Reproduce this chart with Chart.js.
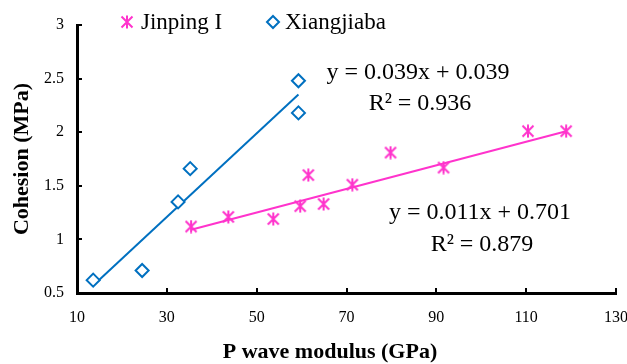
<!DOCTYPE html>
<html>
<head>
<meta charset="utf-8">
<script src="https://cdn.jsdelivr.net/npm/chart.js@4"></script>
<style>
  body { margin: 0; background: #fff; }
</style>
</head>
<body>
<canvas id="chart" width="627" height="364"></canvas>
<script>
// Jinping I
const jinpingX = [35.4, 43.7, 53.7, 59.7, 61.5, 64.9, 71.3, 79.8, 91.6, 110.4, 118.9];
const jinpingY = [1.12, 1.21, 1.19, 1.31, 1.60, 1.33, 1.51, 1.81, 1.67, 2.01, 2.01];
// Xiangjiaba
const xiangX = [13.6, 24.5, 32.5, 35.2, 59.3, 59.3];
const xiangY = [0.62, 0.71, 1.35, 1.66, 2.18, 2.48];

// trendlines: slope, intercept
const jinpingFit = [0.011, 0.701];
const xiangFit = [0.039, 0.039];

const xTicks = [10, 30, 50, 70, 90, 110, 130];
const yTicks = [0.5, 1, 1.5, 2, 2.5, 3];

const PINK = "#ff33cc";
const BLUE = "#0070c0";
const SERIF = "'Liberation Serif', 'Times New Roman', serif";

function toPoints(xs, ys) {
  return xs.map((x, i) => ({ x: x, y: ys[i] }));
}

function fitLine(xs, fit) {
  const x0 = Math.min(...xs);
  const x1 = Math.max(...xs);
  return [
    { x: x0, y: fit[0] * x0 + fit[1] },
    { x: x1, y: fit[0] * x1 + fit[1] },
  ];
}

// asterisk marker (X plus vertical bar)
function makeStar(size) {
  const c = document.createElement("canvas");
  c.width = size;
  c.height = size;
  const g = c.getContext("2d");
  g.strokeStyle = PINK;
  g.lineWidth = 2;
  const m = 1.5;
  g.beginPath();
  g.moveTo(m, m); g.lineTo(size - m, size - m);
  g.moveTo(size - m, m); g.lineTo(m, size - m);
  g.moveTo(size / 2, 0.5); g.lineTo(size / 2, size - 0.5);
  g.stroke();
  return c;
}
const star = makeStar(14);

const overlay = {
  id: "overlay",
  afterDraw(chart) {
    const ctx = chart.ctx;
    const xs = chart.scales.x;
    const ys = chart.scales.y;
    const area = chart.chartArea;
    ctx.save();
    // inward ticks
    ctx.strokeStyle = "#000";
    ctx.lineWidth = 2;
    ctx.beginPath();
    xTicks.forEach((v) => {
      const px = Math.round(xs.getPixelForValue(v));
      ctx.moveTo(px, area.bottom);
      ctx.lineTo(px, area.bottom - 5);
    });
    yTicks.forEach((v) => {
      const py = Math.round(ys.getPixelForValue(v));
      ctx.moveTo(area.left, py);
      ctx.lineTo(area.left + 5, py);
    });
    ctx.stroke();

    // legend
    ctx.fillStyle = "#000";
    ctx.font = "23px " + SERIF;
    ctx.textBaseline = "middle";
    ctx.textAlign = "left";
    ctx.drawImage(star, 120, 15);
    ctx.fillText(chart.data.datasets[0].label, 141, 23);
    ctx.strokeStyle = BLUE;
    ctx.lineWidth = 2;
    ctx.beginPath();
    ctx.moveTo(273, 16); ctx.lineTo(279, 22); ctx.lineTo(273, 28); ctx.lineTo(267, 22);
    ctx.closePath();
    ctx.stroke();
    ctx.fillText(chart.data.datasets[1].label, 285, 23);

    // equations
    ctx.font = "24px " + SERIF;
    ctx.textAlign = "center";
    ctx.fillText("y = " + xiangFit[0].toFixed(3) + "x + " + xiangFit[1].toFixed(3), 418, 73);
    ctx.fillText("R\u00b2 = 0.936", 420, 104);
    ctx.fillText("y = " + jinpingFit[0].toFixed(3) + "x + " + jinpingFit[1].toFixed(3), 480, 213);
    ctx.fillText("R\u00b2 = 0.879", 482, 245);

    // axis titles
    ctx.font = "bold 22px " + SERIF;
    ctx.fillText("P wave modulus (GPa)", 330, 352);
    ctx.translate(22, 159);
    ctx.rotate(-Math.PI / 2);
    ctx.fillText("Cohesion (MPa)", 0, 0);
    ctx.restore();
  },
};

new Chart(document.getElementById("chart"), {
  type: "scatter",
  data: {
    datasets: [
      {
        label: "Jinping I",
        data: toPoints(jinpingX, jinpingY),
        pointStyle: star,
        pointRadius: 7,
        order: 1,
      },
      {
        label: "Xiangjiaba",
        data: toPoints(xiangX, xiangY),
        pointStyle: "rectRot",
        pointRadius: 6.5,
        borderColor: BLUE,
        backgroundColor: "#fff",
        borderWidth: 2,
        order: 1,
      },
      {
        type: "line",
        label: "fitJ",
        data: fitLine(jinpingX, jinpingFit),
        borderColor: PINK,
        borderWidth: 2,
        pointRadius: 0,
        order: 2,
      },
      {
        type: "line",
        label: "fitX",
        data: fitLine(xiangX, xiangFit),
        borderColor: BLUE,
        borderWidth: 2,
        pointRadius: 0,
        order: 2,
      },
    ],
  },
  options: {
    responsive: false,
    animation: false,
    layout: { padding: { top: 25, right: 0, left: 0, bottom: 0 } },
    plugins: {
      legend: { display: false },
      tooltip: { enabled: false },
    },
    scales: {
      x: {
        type: "linear",
        min: 10,
        max: 130,
        afterBuildTicks: (s) => { s.ticks = xTicks.map((v) => ({ value: v })); },
        afterFit: (s) => { s.height = 71; s.paddingRight = 11; s.paddingLeft = 0; },
        grid: { display: false, drawTicks: false, tickLength: 0 },
        border: { color: "#000", width: 3 },
        ticks: {
          color: "#000",
          padding: 15,
          font: { family: SERIF, size: 16 },
          callback: (v) => String(v),
        },
      },
      y: {
        type: "linear",
        min: 0.5,
        max: 3,
        afterBuildTicks: (s) => { s.ticks = yTicks.map((v) => ({ value: v })); },
        afterFit: (s) => { s.width = 77; s.paddingTop = 0; s.paddingBottom = 0; },
        grid: { display: false, drawTicks: false, tickLength: 0 },
        border: { color: "#000", width: 3 },
        ticks: {
          color: "#000",
          padding: 13,
          font: { family: SERIF, size: 16 },
          callback: (v) => String(v),
        },
      },
    },
  },
  plugins: [overlay],
});
</script>
</body>
</html>
